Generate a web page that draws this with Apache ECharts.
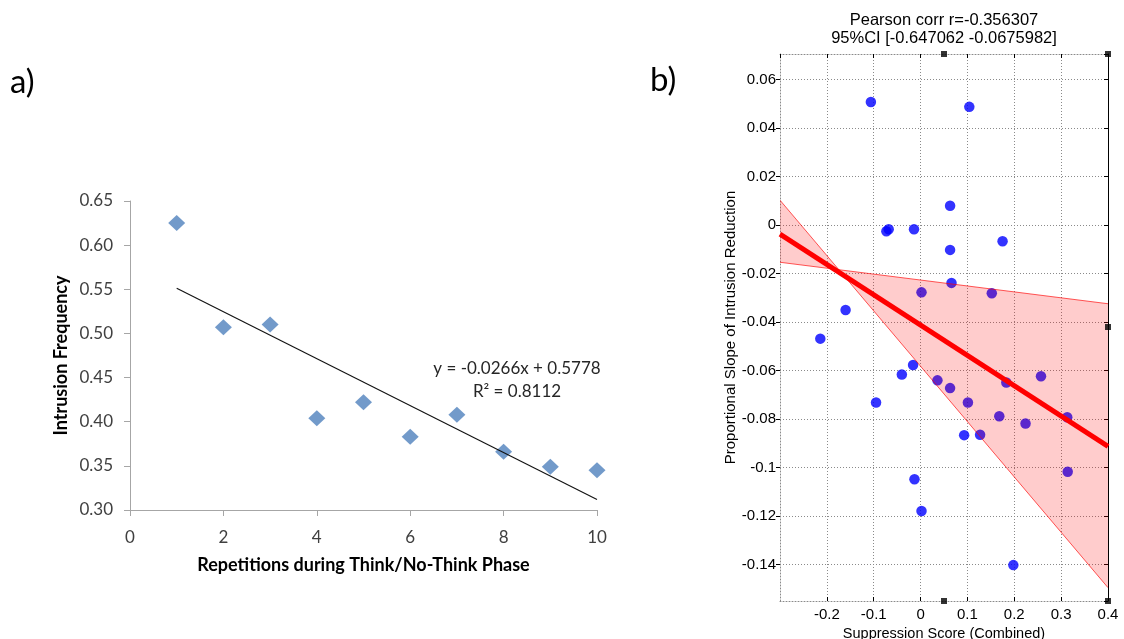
<!DOCTYPE html>
<html>
<head>
<meta charset="utf-8">
<title>Intrusion frequency and suppression</title>
<script src="https://cdn.jsdelivr.net/npm/echarts@6/dist/echarts.min.js"></script>
<style>
  html, body { margin: 0; padding: 0; background: #fff; }
  #chart { width: 1124px; height: 639px; }
</style>
</head>
<body>
<div id="chart"></div>
<script>
// ---- Panel a: intrusion frequency per repetition ----
const repetitions = [1, 2, 3, 4, 5, 6, 7, 8, 9, 10];
const intrusionFreq = [0.625, 0.507, 0.510, 0.404, 0.422, 0.383, 0.408, 0.366, 0.349, 0.345];
const trendSlope = -0.0266;
const trendIntercept = 0.5778;
const trendR2 = 0.8112;
const repTicks = [0, 2, 4, 6, 8, 10];

// ---- Panel b: suppression score vs. slope of intrusion reduction ----
const suppressionScore = [
  -0.106, 0.104, 0.063, -0.073, -0.068, -0.014,
  0.175, 0.063, 0.066, 0.002, 0.152, -0.160, -0.214, -0.016, -0.040,
  0.257, 0.036, 0.183, 0.063, -0.095, 0.101,
  0.168, 0.313, 0.224, 0.093, 0.127, 0.314, -0.013, 0.002, 0.198
];
const slopeReduction = [
  0.0508, 0.0488, 0.0080, -0.0025, -0.0017, -0.0017,
  -0.0066, -0.0102, -0.0238, -0.0277, -0.0281, -0.0350, -0.0468, -0.0577, -0.0616,
  -0.0623, -0.0640, -0.0649, -0.0672, -0.0731, -0.0731,
  -0.0788, -0.0792, -0.0818, -0.0866, -0.0864, -0.1017, -0.1048, -0.1179, -0.1402
];
const fitLine = [[-0.3, -0.0037], [0.4, -0.0912]];
const ciSteep = [[-0.3, 0.0103], [0.4, -0.1495]];
const ciShallow = [[-0.3, -0.0153], [0.4, -0.0324]];
const cornerMarks = [[0.05, 0.0706], [0.4, 0.0706], [0.4, -0.042], [0.05, -0.155], [0.4, -0.155]];
const pearsonR = '-0.356307';
const ciText = '[-0.647062 -0.0675982]';

const suppressionMin = -0.3, suppressionMax = 0.4;
const slopeMin = -0.155, slopeMax = 0.0706;

const scatterB = suppressionScore.map((x, i) => [x, slopeReduction[i]]);
const scatterA = repetitions.map((x, i) => [x, intrusionFreq[i]]);
const trendLine = [1, 10].map(x => [x, trendSlope * x + trendIntercept]);

const excelFont = 'Lato';
const matFont = 'Liberation Sans';
const dotted = { color: '#8a8a8a', type: [1, 2], width: 1 };
const grayAxis = { color: '#a6a6a6', width: 1 };

const chart = echarts.init(document.getElementById('chart'), null, { renderer: 'canvas' });

chart.setOption({
  animation: false,
  backgroundColor: '#ffffff',
  title: {
    text: 'Pearson corr r=' + pearsonR + '\n95%CI ' + ciText,
    left: 944,
    top: 11,
    padding: 0,
    textAlign: 'center',
    textStyle: { fontFamily: matFont, fontSize: 16.5, fontWeight: 'normal', color: '#000', lineHeight: 18 }
  },
  graphic: [
    { type: 'text', left: 10, top: 66, style: { text: 'a)', font: '33px Lato', fill: '#000' } },
    { type: 'text', left: 650, top: 64, style: { text: 'b)', font: '33px Lato', fill: '#000' } },
    { type: 'text', x: 517, y: 369, style: { text: 'y = ' + trendSlope.toFixed(4) + 'x + ' + trendIntercept.toFixed(4), font: '17px Lato', fill: '#262626', align: 'center', verticalAlign: 'middle' } },
    { type: 'text', x: 517, y: 392, style: { text: 'R\u00b2 = ' + trendR2.toFixed(4), font: '17px Lato', fill: '#262626', align: 'center', verticalAlign: 'middle' } }
  ],
  grid: [
    { left: 130, top: 201, width: 467, height: 309, outerBoundsMode: 'none', containLabel: false },
    { left: 780, top: 54, width: 328, height: 547, outerBoundsMode: 'none', containLabel: false }
  ],
  xAxis: [
    {
      gridIndex: 0, type: 'value', min: repTicks[0], max: repTicks[repTicks.length - 1], interval: 2,
      axisLine: { show: true, lineStyle: grayAxis },
      axisTick: { show: true, length: 6, lineStyle: grayAxis },
      axisLabel: { fontFamily: excelFont, fontSize: 17, color: '#404040', margin: 19 },
      splitLine: { show: false },
      name: 'Repetitions during Think/No-Think Phase', nameLocation: 'middle', nameGap: 46,
      nameTextStyle: { fontFamily: excelFont, fontSize: 18, fontWeight: 'bold', color: '#000' }
    },
    {
      gridIndex: 1, type: 'value', min: suppressionMin, max: suppressionMax, interval: 0.1, position: 'bottom',
      axisLine: { show: true, onZero: false, lineStyle: dotted },
      axisTick: { show: true, inside: true, length: 4, lineStyle: { color: '#000' } },
      axisLabel: {
        fontFamily: matFont, fontSize: 15, color: '#000', margin: 6, showMinLabel: false,
        formatter: v => String(parseFloat(v.toFixed(2)))
      },
      splitLine: { show: true, lineStyle: dotted },
      name: 'Suppression Score (Combined)', nameLocation: 'middle', nameGap: 24,
      nameTextStyle: { fontFamily: matFont, fontSize: 14.5, color: '#000' }
    },
    {
      gridIndex: 1, type: 'value', min: suppressionMin, max: suppressionMax, interval: 0.1, position: 'top',
      axisLine: { show: true, onZero: false, lineStyle: dotted },
      axisTick: { show: true, inside: true, length: 4, lineStyle: { color: '#000' } },
      axisLabel: { show: false },
      splitLine: { show: false }
    }
  ],
  yAxis: [
    {
      gridIndex: 0, type: 'value', min: 0.3, max: 0.65, interval: 0.05,
      axisLine: { show: true, lineStyle: grayAxis },
      axisTick: { show: true, length: 6, lineStyle: grayAxis },
      axisLabel: { fontFamily: excelFont, fontSize: 17, color: '#404040', margin: 17, formatter: v => v.toFixed(2) },
      splitLine: { show: false },
      name: 'Intrusion Frequency', nameLocation: 'middle', nameGap: 60,
      nameTextStyle: { fontFamily: excelFont, fontSize: 18, fontWeight: 'bold', color: '#000' }
    },
    {
      gridIndex: 1, type: 'value', min: slopeMin, max: slopeMax, splitNumber: 11, position: 'left',
      axisLine: { show: true, onZero: false, lineStyle: dotted },
      axisTick: { show: true, inside: false, length: 4, lineStyle: { color: '#000' } },
      axisLabel: {
        fontFamily: matFont, fontSize: 15, color: '#000', margin: 4,
        showMinLabel: false, showMaxLabel: false,
        formatter: v => String(parseFloat(v.toFixed(3)))
      },
      splitLine: { show: true, lineStyle: dotted },
      name: 'Proportional Slope of Intrusion Reduction', nameLocation: 'middle', nameGap: 41,
      nameTextStyle: { fontFamily: matFont, fontSize: 15, color: '#000' }
    },
    {
      gridIndex: 1, type: 'value', min: slopeMin, max: slopeMax, splitNumber: 11, position: 'right',
      axisLine: { show: true, onZero: false, lineStyle: { color: '#000', width: 1 } },
      axisTick: { show: true, inside: true, length: 4, lineStyle: { color: '#000' } },
      axisLabel: { show: false },
      splitLine: { show: false }
    }
  ],
  series: [
    {
      name: 'Intrusion frequency', type: 'scatter', xAxisIndex: 0, yAxisIndex: 0,
      data: scatterA, symbol: 'diamond', symbolSize: [17, 16],
      itemStyle: { color: '#4f81bd' }, z: 3
    },
    {
      name: 'Linear trend', type: 'line', xAxisIndex: 0, yAxisIndex: 0,
      data: trendLine, showSymbol: false, symbol: 'none',
      lineStyle: { color: '#111', width: 1.1 }, z: 4
    },
    {
      name: 'Participants', type: 'scatter', xAxisIndex: 1, yAxisIndex: 1,
      data: scatterB, symbol: 'circle', symbolSize: 10.5,
      itemStyle: { color: '#0000ff' }, z: 3
    },
    {
      name: 'Confidence band', type: 'custom', xAxisIndex: 1, yAxisIndex: 1,
      data: [0], clip: true, z: 4,
      renderItem: (params, api) => {
        const a0 = api.coord(ciSteep[0]), a1 = api.coord(ciSteep[1]);
        const b0 = api.coord(ciShallow[0]), b1 = api.coord(ciShallow[1]);
        return {
          type: 'group',
          children: [
            { type: 'polygon', shape: { points: [a0, a1, b1, b0] }, style: { fill: 'rgba(255,0,0,0.2)', stroke: null } },
            { type: 'line', shape: { x1: a0[0], y1: a0[1], x2: a1[0], y2: a1[1] }, style: { stroke: 'rgba(255,0,0,0.65)', lineWidth: 1 } },
            { type: 'line', shape: { x1: b0[0], y1: b0[1], x2: b1[0], y2: b1[1] }, style: { stroke: 'rgba(255,0,0,0.65)', lineWidth: 1 } }
          ]
        };
      }
    },
    {
      name: 'Regression', type: 'line', xAxisIndex: 1, yAxisIndex: 1,
      data: fitLine, showSymbol: false, symbol: 'none',
      lineStyle: { color: '#ff0000', width: 5 }, z: 5
    },
    {
      name: 'Frame marks', type: 'scatter', xAxisIndex: 1, yAxisIndex: 1,
      data: cornerMarks, symbol: 'rect', symbolSize: 6, clip: false,
      itemStyle: { color: '#000' }, z: 6
    }
  ]
});
</script>
</body>
</html>
